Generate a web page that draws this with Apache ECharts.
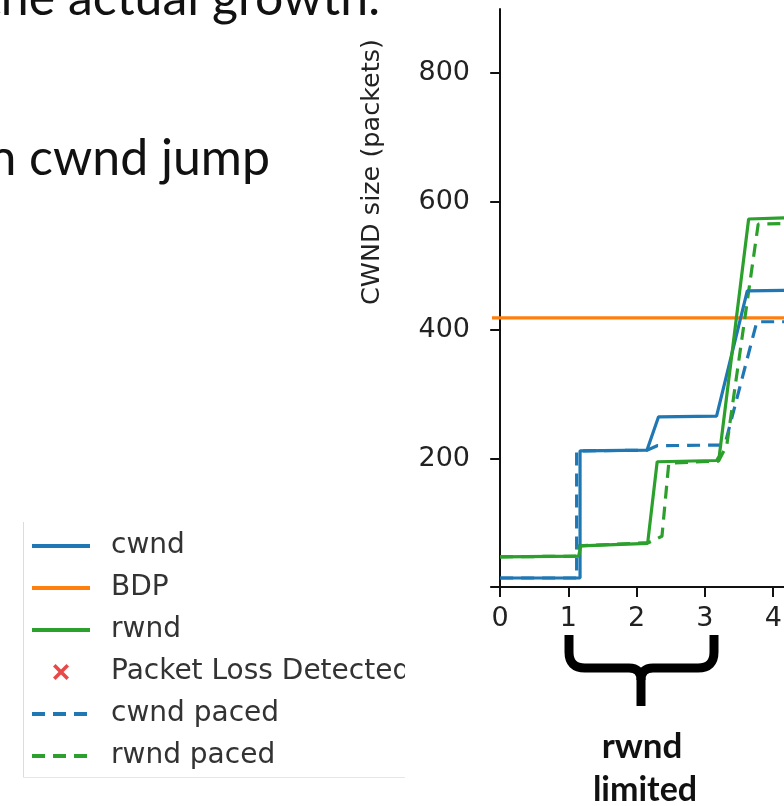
<!DOCTYPE html>
<html>
<head>
<meta charset="utf-8">
<style>html,body{margin:0;padding:0;background:#fff;}#c{width:784px;height:806px;}</style>
<script src="https://cdn.jsdelivr.net/npm/echarts@6/dist/echarts.min.js"></script>
</head>
<body>
<div id="c"></div>
<script>
// ---- data ----
var xTicks = [0, 1, 2, 3, 4];
var yTicks = [0, 200, 400, 600, 800];

var cwndX = [0, 1.17, 1.17, 2.15, 2.32, 3.17, 3.62, 4.2];
var cwndY = [14, 14, 212, 213, 265, 266, 461, 462];

var bdpX = [-0.12, 4.2];
var bdpY = [419, 419];

var rwndX = [0, 1.15, 1.18, 2.16, 2.30, 3.17, 3.21, 3.64, 4.2];
var rwndY = [47, 48, 64, 68, 195, 197, 204, 573, 575];

var lossX = [];
var lossY = [];

var cwndPacedX = [0, 1.12, 1.12, 2.15, 2.30, 3.22, 3.30, 3.76, 4.2];
var cwndPacedY = [14, 14, 212, 213, 220, 221, 225, 413, 413];

var rwndPacedX = [0, 1.13, 1.15, 2.17, 2.37, 2.47, 3.20, 3.32, 3.78, 4.2];
var rwndPacedY = [47, 48, 64, 69, 79, 193, 196, 221, 565, 566];

function pairs(xs, ys) { return xs.map(function (x, i) { return [x, ys[i]]; }); }

var C_BLUE = '#1f77b4', C_ORANGE = '#ff7f0e', C_GREEN = '#2ca02c', C_RED = '#e41a1c';
var xPath = 'path://M0,1.6L1.6,0L5,3.4L8.4,0L10,1.6L6.6,5L10,8.4L8.4,10L5,6.6L1.6,10L0,8.4L3.4,5Z';

var chart = echarts.init(document.getElementById('c'), null, {renderer: 'canvas'});

function lineSeries(name, data, color, dashed) {
  return {
    name: name, type: 'line', data: data, symbol: 'none', animation: false,
    lineStyle: {color: color, width: 3.2, type: dashed ? [13, 8] : 'solid'},
    itemStyle: {color: color}
  };
}

var braceStyle = {stroke: '#000', lineWidth: 9, fill: null, lineCap: 'butt'};
function bl(x1, y1, x2, y2) { return {type: 'line', z: 10, shape: {x1: x1, y1: y1, x2: x2, y2: y2}, style: braceStyle}; }
function bc(x1, y1, cx, cy, x2, y2) { return {type: 'bezierCurve', z: 10, shape: {x1: x1, y1: y1, cpx1: cx, cpy1: cy, x2: x2, y2: y2}, style: braceStyle}; }

var hideSym = {opacity: 0};

var option = {
  backgroundColor: '#fff',
  animation: false,
  grid: {left: 492, top: 9, bottom: 219, right: 0, containLabel: false, outerBoundsMode: 'none'},
  xAxis: {
    type: 'value', min: -0.12, max: 4.158,
    axisLine: {show: true, onZero: false, lineStyle: {color: '#111', width: 2}},
    axisTick: {show: true, customValues: xTicks, length: 10, lineStyle: {color: '#111', width: 2}},
    axisLabel: {customValues: xTicks, color: '#222', fontFamily: 'DejaVu Sans', fontSize: 27, margin: 18,
      formatter: function (v) { return String(Math.round(v)); }},
    splitLine: {show: false}
  },
  yAxis: {
    type: 'value', min: 0, max: 900,
    axisLine: {show: true, lineStyle: {color: '#111', width: 2}},
    axisTick: {show: true, customValues: yTicks, length: 10, lineStyle: {color: '#111', width: 2}},
    axisLabel: {customValues: yTicks, color: '#222', fontFamily: 'DejaVu Sans', fontSize: 27, margin: 22},
    splitLine: {show: false}
  },
  legend: {
    orient: 'vertical', left: 30, top: 532, padding: 0,
    itemWidth: 58, itemHeight: 16, itemGap: 14,
    textStyle: {color: '#333', fontFamily: 'DejaVu Sans', fontSize: 28, padding: [0, 0, 0, 16]},
    lineStyle: {width: 4},
    data: [
      {name: 'cwnd', itemStyle: hideSym}, {name: 'BDP', itemStyle: hideSym}, {name: 'rwnd', itemStyle: hideSym},
      {name: 'Packet Loss Detected', icon: xPath},
      {name: 'cwnd paced', itemStyle: hideSym}, {name: 'rwnd paced', itemStyle: hideSym}
    ]
  },
  series: [
    lineSeries('BDP', pairs(bdpX, bdpY), C_ORANGE, false),
    lineSeries('cwnd paced', pairs(cwndPacedX, cwndPacedY), C_BLUE, true),
    lineSeries('rwnd paced', pairs(rwndPacedX, rwndPacedY), C_GREEN, true),
    lineSeries('cwnd', pairs(cwndX, cwndY), C_BLUE, false),
    lineSeries('rwnd', pairs(rwndX, rwndY), C_GREEN, false),
    {name: 'Packet Loss Detected', type: 'scatter', data: pairs(lossX, lossY), symbol: xPath, symbolSize: 16,
      itemStyle: {color: C_RED}}
  ],
  graphic: [
    {type: 'line', shape: {x1: 23.5, y1: 522, x2: 23.5, y2: 777.5}, style: {stroke: '#dcdcdc', lineWidth: 1}, z: 10},
    {type: 'line', shape: {x1: 23.5, y1: 777.5, x2: 405, y2: 777.5}, style: {stroke: '#e6e6e6', lineWidth: 1}, z: 10},
    {type: 'rect', shape: {x: 405, y: 500, width: 80, height: 290}, style: {fill: '#fff'}, z: 20},
    {type: 'text', x: 372, y: 172, rotation: Math.PI / 2, z: 10,
      style: {text: 'CWND size (packets)', fontFamily: 'DejaVu Sans', fontSize: 25.5, fill: '#222', align: 'center', verticalAlign: 'middle'}},
    {type: 'text', x: 380, y: -26, z: 10,
      style: {text: 'the actual growth.', fontFamily: 'Lato', fontSize: 50, fill: '#111', align: 'right', verticalAlign: 'top'}},
    {type: 'text', x: 270, y: 134, z: 10,
      style: {text: 'an cwnd jump', fontFamily: 'Lato', fontSize: 50, fill: '#111', align: 'right', verticalAlign: 'top'}},
    bl(569, 635, 569, 652),
    bc(569, 652, 569, 668, 585, 668),
    bl(585, 668, 629, 668),
    bc(629, 668, 641, 668, 641, 680),
    bl(641, 680, 641, 706),
    bc(641, 680, 641, 668, 653, 668),
    bl(653, 668, 698, 668),
    bc(698, 668, 714, 668, 714, 652),
    bl(714, 652, 714, 635),
    {type: 'text', x: 642, y: 747, z: 10,
      style: {text: 'rwnd', fontFamily: 'Lato', fontWeight: 'bold', fontSize: 35, fill: '#111', align: 'center', verticalAlign: 'middle'}},
    {type: 'text', x: 645, y: 790, z: 10,
      style: {text: 'limited', fontFamily: 'Lato', fontWeight: 'bold', fontSize: 34, fill: '#111', align: 'center', verticalAlign: 'middle'}}
  ]
};
chart.setOption(option);
</script>
</body>
</html>
